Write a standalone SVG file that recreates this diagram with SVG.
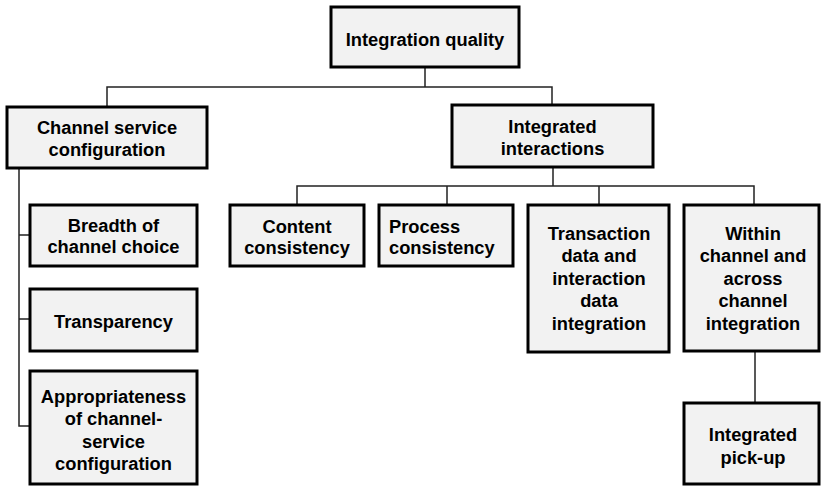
<svg xmlns="http://www.w3.org/2000/svg" width="821" height="486" viewBox="0 0 821 486">
<style>
.box{fill:#f2f2f2;stroke:#000;stroke-width:3}
.t{font-family:"Liberation Sans",Arial,sans-serif;font-weight:bold;font-size:18.3px;fill:#000;text-anchor:middle}
.l{text-anchor:start}
.c{fill:none;stroke:#222;stroke-width:1.5}
</style>
<rect width="821" height="486" fill="#fff"/>
<g id="connectors">
<path class="c" d="M425 67V87M107 107V87H552V105"/>
<path class="c" d="M19 168V426H30M19 235H30M19 319H30"/>
<path class="c" d="M553 167V186M297 205V186H754V205M447 186V205M599 186V205"/>
<path class="c" d="M755 351V403"/>
</g>
<g id="integration-quality">
<rect class="box" x="331" y="7" width="188" height="60"/>
<text class="t" x="425" y="45.5">Integration quality</text>
</g>
<g id="channel-service-configuration">
<rect class="box" x="7" y="107" width="200" height="61"/>
<text class="t" x="107" y="133.5">Channel service</text>
<text class="t" x="107" y="156">configuration</text>
</g>
<g id="breadth">
<rect class="box" x="30" y="205" width="167" height="61"/>
<text class="t" x="113.5" y="231.5">Breadth of</text>
<text class="t" x="113.5" y="253">channel choice</text>
</g>
<g id="transparency">
<rect class="box" x="30" y="289" width="167" height="62"/>
<text class="t" x="113.5" y="327.5">Transparency</text>
</g>
<g id="appropriateness">
<rect class="box" x="30" y="371" width="167" height="113"/>
<text class="t" x="113.5" y="402.5">Appropriateness</text>
<text class="t" x="113.5" y="425">of channel-</text>
<text class="t" x="113.5" y="447.5">service</text>
<text class="t" x="113.5" y="470">configuration</text>
</g>
<g id="integrated-interactions">
<rect class="box" x="452" y="105" width="201" height="62"/>
<text class="t" x="552.5" y="132.5">Integrated</text>
<text class="t" x="552.5" y="154.5">interactions</text>
</g>
<g id="content-consistency">
<rect class="box" x="230" y="205" width="134" height="61"/>
<text class="t" x="297" y="232.5">Content</text>
<text class="t" x="297" y="254">consistency</text>
</g>
<g id="process-consistency">
<rect class="box" x="379" y="205" width="134" height="61"/>
<text class="t l" x="389" y="232.5">Process</text>
<text class="t l" x="389" y="254">consistency</text>
</g>
<g id="transaction-data">
<rect class="box" x="528" y="205" width="141" height="147"/>
<text class="t" x="599" y="239.5">Transaction</text>
<text class="t" x="599" y="262">data and</text>
<text class="t" x="599" y="284.5">interaction</text>
<text class="t" x="599" y="307">data</text>
<text class="t" x="599" y="329.5">integration</text>
</g>
<g id="within-across-channel">
<rect class="box" x="684" y="205" width="135" height="146"/>
<text class="t" x="753" y="239.5">Within</text>
<text class="t" x="753" y="262">channel and</text>
<text class="t" x="753" y="284.5">across</text>
<text class="t" x="753" y="307">channel</text>
<text class="t" x="753" y="329.5">integration</text>
</g>
<g id="integrated-pick-up">
<rect class="box" x="684" y="403" width="135" height="81"/>
<text class="t" x="753" y="440.5">Integrated</text>
<text class="t" x="753" y="463.5">pick-up</text>
</g>
</svg>
